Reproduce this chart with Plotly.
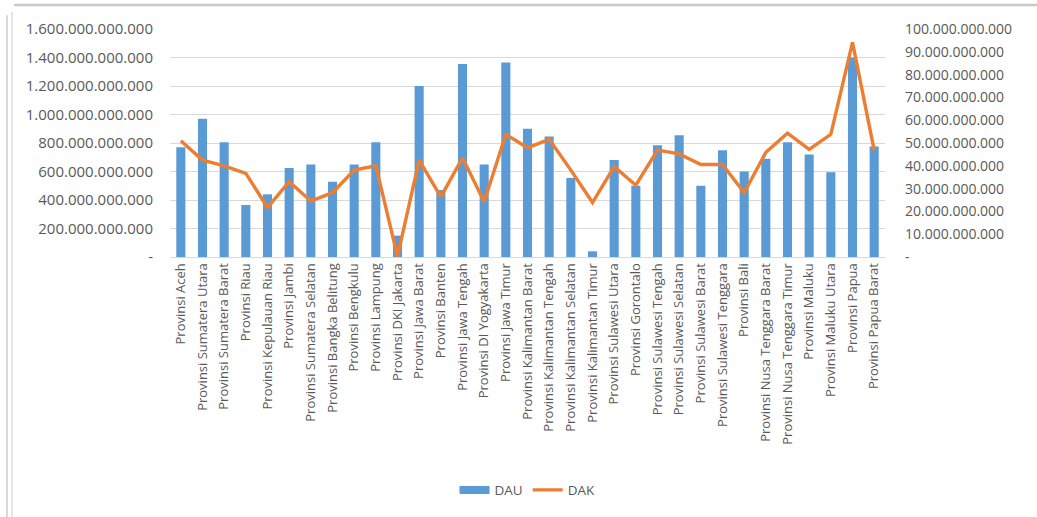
import plotly.graph_objects as go

provinces = [
    "Provinsi Aceh", "Provinsi Sumatera Utara", "Provinsi Sumatera Barat", "Provinsi Riau",
    "Provinsi Kepulauan Riau", "Provinsi Jambi", "Provinsi Sumatera Selatan",
    "Provinsi Bangka Belitung", "Provinsi Bengkulu", "Provinsi Lampung",
    "Provinsi DKI Jakarta", "Provinsi Jawa Barat", "Provinsi Banten", "Provinsi Jawa Tengah",
    "Provinsi DI Yogyakarta", "Provinsi Jawa Timur", "Provinsi Kalimantan Barat",
    "Provinsi Kalimantan Tengah", "Provinsi Kalimantan Selatan", "Provinsi Kalimantan Timur",
    "Provinsi Sulawesi Utara", "Provinsi Gorontalo", "Provinsi Sulawesi Tengah",
    "Provinsi Sulawesi Selatan", "Provinsi Sulawesi Barat", "Provinsi Sulawesi Tenggara",
    "Provinsi Bali", "Provinsi Nusa Tenggara Barat", "Provinsi Nusa Tenggara Timur",
    "Provinsi Maluku", "Provinsi Maluku Utara", "Provinsi Papua", "Provinsi Papua Barat",
]

# DAU (left axis), in billions of rupiah
dau_billion = [770, 970, 805, 365, 440, 625, 650, 528, 650, 805,
               150, 1200, 470, 1355, 650, 1365, 900, 845, 555, 40,
               680, 500, 785, 855, 500, 750, 600, 690, 805, 720,
               595, 1400, 775]

# DAK (right axis), in billions of rupiah
dak_billion = [51.0, 42.5, 40.0, 36.7, 21.7, 33.0, 24.5, 28.2, 38.1, 40.0,
               0.3, 42.5, 26.4, 43.5, 24.2, 53.8, 47.9, 51.6, 38.1, 23.9,
               39.6, 31.5, 46.9, 45.2, 40.6, 40.6, 28.2, 45.9, 54.3, 47.2,
               53.8, 94.1, 46.9]

left_ticks = [0, 200e9, 400e9, 600e9, 800e9, 1000e9, 1200e9, 1400e9, 1600e9]
right_ticks = [0, 10e9, 20e9, 30e9, 40e9, 50e9, 60e9, 70e9, 80e9, 90e9, 100e9]


def fmt(v):
    if v == 0:
        return "-"
    return f"{int(v):,}".replace(",", ".")


dau = [v * 1e9 for v in dau_billion]
dak = [v * 1e9 for v in dak_billion]

font_family = "Open Sans"
grey = "#595959"
blue = "#5B9BD5"
orange = "#ED7D31"

fig = go.Figure()
fig.add_trace(go.Bar(x=provinces, y=dau, name="DAU", marker_color=blue,
                     marker_line_width=0, yaxis="y", showlegend=False))
# legend-only entry giving a wide rectangular swatch for DAU
fig.add_trace(go.Scatter(x=[None], y=[None], name="DAU", mode="lines",
                         line=dict(color=blue, width=8), yaxis="y"))
fig.add_trace(go.Scatter(x=provinces, y=dak, name="DAK", mode="lines",
                         line=dict(color=orange, width=3.4), yaxis="y2"))

fig.update_layout(
    width=1037, height=517,
    paper_bgcolor="white", plot_bgcolor="white",
    margin=dict(l=170, r=152, t=29, b=260, autoexpand=False),
    font=dict(family=font_family, color=grey, size=13),
    bargap=0.58,
    showlegend=True,
    legend=dict(orientation="h", x=0.5, xanchor="center",
                yref="container", y=0.052, yanchor="middle",
                font=dict(size=13.5, color=grey)),
    xaxis=dict(tickangle=-90, tickfont=dict(size=13, color=grey), showgrid=False,
               showline=True, linecolor="#D9D9D9", linewidth=1, ticks="",
               range=[-0.5, len(provinces) - 0.5]),
    yaxis=dict(range=[0, 1.6e12], tickvals=left_ticks, ticktext=[fmt(v) for v in left_ticks],
               showgrid=True, gridcolor="#D9D9D9", gridwidth=1, zeroline=False,
               tickfont=dict(size=15, color=grey), ticks="", ticklabelstandoff=16),
    yaxis2=dict(range=[0, 1.0e11], tickvals=right_ticks, ticktext=[fmt(v) for v in right_ticks],
                overlaying="y", side="right", showgrid=False, zeroline=False,
                tickfont=dict(size=14, color=grey), ticks="", ticklabelstandoff=19),
)

# chart frame (selection-style borders of the original screenshot)
fig.add_shape(type="line", xref="paper", yref="paper",
              x0=-0.218, x1=1.213, y0=1.105, y1=1.105,
              line=dict(color="#C8C8C8", width=2.5))
fig.add_shape(type="line", xref="paper", yref="paper",
              x0=-0.221, x1=-0.221, y0=1.075, y1=-1.14,
              line=dict(color="#DDDDDD", width=1.5))
fig.add_shape(type="line", xref="paper", yref="paper",
              x0=-0.228, x1=-0.228, y0=1.06, y1=-1.14,
              line=dict(color="#CCCCCC", width=1.5))

fig.write_html("out.html", config={"displayModeBar": False},
               post_script="document.body.style.margin='0';")
